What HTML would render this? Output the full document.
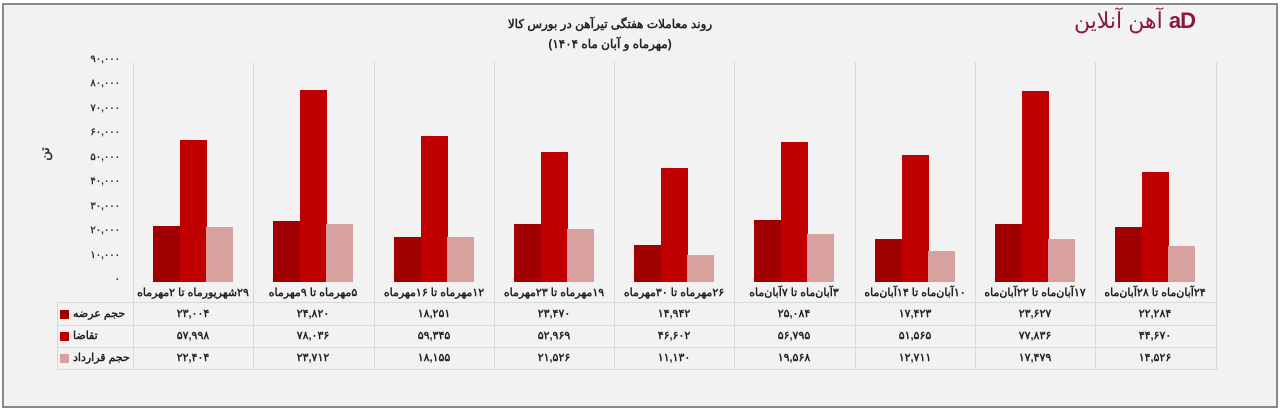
<!DOCTYPE html>
<html><head><meta charset="utf-8"><style>
body{margin:0;width:1280px;height:410px;background:#fff;font-family:"Liberation Sans","Noto Sans CJK SC",sans-serif;overflow:hidden}
#f{position:absolute;left:2px;top:3px;width:1272px;height:401px;border:2px solid #8a8a8a;background:#f2f2f2}
.a{position:absolute}
.g{position:absolute;top:62px;height:220px;width:1px;background:#d9d9d9}
.yl{position:absolute;left:60px;width:60px;text-align:right;font-size:10px;font-weight:bold;color:#333}
.b{position:absolute;width:27px}
.d{background:#a00000}.r{background:#c00000}.p{background:#d8a09f}
.c{position:absolute;width:120px;text-align:center;font-size:11px;font-weight:bold;color:#222;direction:rtl}
.hl{position:absolute;height:1px;background:#d9d9d9;left:57px;width:1159px}
.vl{position:absolute;width:1px;background:#d9d9d9;top:282px;height:88px}
.lab{position:absolute;left:60px;width:73px;font-size:11px;font-weight:bold;color:#222;text-align:left}
.lab span{display:inline-block;width:9px;height:9px;vertical-align:middle;margin-right:4px}
</style></head><body>
<div id="f"></div>
<div class="a" style="left:480px;width:260px;top:14px;text-align:center;font-size:12px;font-weight:bold;direction:rtl;color:#222;line-height:20px">روند معاملات هفتگی تیرآهن در بورس کالا<br>(مهرماه و آبان ماه ۱۴۰۴)</div>
<div class="a" style="left:990px;top:8px;width:205px;text-align:right;font-size:22px;color:#8b1a3a;white-space:nowrap"><span style="direction:rtl;unicode-bidi:embed">آهن آنلاین</span> <span style="font-weight:bold;letter-spacing:-1px">aD</span></div>
<div class="a" style="left:38px;top:146px;font-size:13px;font-weight:bold;transform:rotate(-90deg);color:#333">تن</div>
<div class="yl" style="top:54px">۹۰,۰۰۰</div>
<div class="yl" style="top:78px">۸۰,۰۰۰</div>
<div class="yl" style="top:103px">۷۰,۰۰۰</div>
<div class="yl" style="top:127px">۶۰,۰۰۰</div>
<div class="yl" style="top:152px">۵۰,۰۰۰</div>
<div class="yl" style="top:176px">۴۰,۰۰۰</div>
<div class="yl" style="top:201px">۳۰,۰۰۰</div>
<div class="yl" style="top:225px">۲۰,۰۰۰</div>
<div class="yl" style="top:250px">۱۰,۰۰۰</div>
<div class="yl" style="top:274px">۰</div>
<div class="g" style="left:133px"></div><div class="g" style="left:253px"></div><div class="g" style="left:374px"></div><div class="g" style="left:494px"></div><div class="g" style="left:614px"></div><div class="g" style="left:734px"></div><div class="g" style="left:855px"></div><div class="g" style="left:975px"></div><div class="g" style="left:1095px"></div><div class="g" style="left:1216px"></div>

<div class="b d" style="left:153px;top:226px;height:56px"></div><div class="b r" style="left:180px;top:140px;height:142px"></div><div class="b p" style="left:206px;top:227px;height:55px"></div>
<div class="b d" style="left:273px;top:221px;height:61px"></div><div class="b r" style="left:300px;top:90px;height:192px"></div><div class="b p" style="left:326px;top:224px;height:58px"></div>
<div class="b d" style="left:394px;top:237px;height:45px"></div><div class="b r" style="left:421px;top:136px;height:146px"></div><div class="b p" style="left:447px;top:237px;height:45px"></div>
<div class="b d" style="left:514px;top:224px;height:58px"></div><div class="b r" style="left:541px;top:152px;height:130px"></div><div class="b p" style="left:567px;top:229px;height:53px"></div>
<div class="b d" style="left:634px;top:245px;height:37px"></div><div class="b r" style="left:661px;top:168px;height:114px"></div><div class="b p" style="left:687px;top:255px;height:27px"></div>
<div class="b d" style="left:754px;top:220px;height:62px"></div><div class="b r" style="left:781px;top:142px;height:140px"></div><div class="b p" style="left:807px;top:234px;height:48px"></div>
<div class="b d" style="left:875px;top:239px;height:43px"></div><div class="b r" style="left:902px;top:155px;height:127px"></div><div class="b p" style="left:928px;top:251px;height:31px"></div>
<div class="b d" style="left:995px;top:224px;height:58px"></div><div class="b r" style="left:1022px;top:91px;height:191px"></div><div class="b p" style="left:1048px;top:239px;height:43px"></div>
<div class="b d" style="left:1115px;top:227px;height:55px"></div><div class="b r" style="left:1142px;top:172px;height:110px"></div><div class="b p" style="left:1168px;top:246px;height:36px"></div>

<div class="hl" style="top:302px;left:57px"></div><div class="hl" style="top:325px"></div><div class="hl" style="top:347px"></div><div class="hl" style="top:369px"></div>
<div class="vl" style="left:57px;top:302px;height:67px"></div>
<div class="vl" style="left:133px"></div><div class="vl" style="left:253px"></div><div class="vl" style="left:374px"></div><div class="vl" style="left:494px"></div><div class="vl" style="left:614px"></div><div class="vl" style="left:734px"></div><div class="vl" style="left:855px"></div><div class="vl" style="left:975px"></div><div class="vl" style="left:1095px"></div><div class="vl" style="left:1216px"></div>

<div class="lab" style="top:307px"><span class="d"></span>حجم عرضه</div>
<div class="lab" style="top:329px"><span class="r"></span>تقاضا</div>
<div class="lab" style="top:351px"><span class="p"></span>حجم قرارداد</div>

<div class="c" style="left:133px;top:286px">۲۹شهریورماه تا ۲مهرماه</div>
<div class="c" style="left:253px;top:286px">۵مهرماه تا ۹مهرماه</div>
<div class="c" style="left:374px;top:286px">۱۲مهرماه تا ۱۶مهرماه</div>
<div class="c" style="left:494px;top:286px">۱۹مهرماه تا ۲۳مهرماه</div>
<div class="c" style="left:614px;top:286px">۲۶مهرماه تا ۳۰مهرماه</div>
<div class="c" style="left:734px;top:286px">۳آبان‌ماه تا ۷آبان‌ماه</div>
<div class="c" style="left:855px;top:286px">۱۰آبان‌ماه تا ۱۴آبان‌ماه</div>
<div class="c" style="left:975px;top:286px">۱۷آبان‌ماه تا ۲۲آبان‌ماه</div>
<div class="c" style="left:1095px;top:286px">۲۴آبان‌ماه تا ۲۸آبان‌ماه</div>

<div class="c" style="left:133px;top:307px">۲۳,۰۰۴</div><div class="c" style="left:253px;top:307px">۲۴,۸۲۰</div><div class="c" style="left:374px;top:307px">۱۸,۲۵۱</div><div class="c" style="left:494px;top:307px">۲۳,۴۷۰</div><div class="c" style="left:614px;top:307px">۱۴,۹۴۲</div><div class="c" style="left:734px;top:307px">۲۵,۰۸۴</div><div class="c" style="left:855px;top:307px">۱۷,۴۲۳</div><div class="c" style="left:975px;top:307px">۲۳,۶۲۷</div><div class="c" style="left:1095px;top:307px">۲۲,۲۸۴</div>
<div class="c" style="left:133px;top:329px">۵۷,۹۹۸</div><div class="c" style="left:253px;top:329px">۷۸,۰۳۶</div><div class="c" style="left:374px;top:329px">۵۹,۳۴۵</div><div class="c" style="left:494px;top:329px">۵۲,۹۶۹</div><div class="c" style="left:614px;top:329px">۴۶,۶۰۲</div><div class="c" style="left:734px;top:329px">۵۶,۷۹۵</div><div class="c" style="left:855px;top:329px">۵۱,۵۶۵</div><div class="c" style="left:975px;top:329px">۷۷,۸۳۶</div><div class="c" style="left:1095px;top:329px">۴۴,۶۷۰</div>
<div class="c" style="left:133px;top:351px">۲۲,۴۰۴</div><div class="c" style="left:253px;top:351px">۲۳,۷۱۲</div><div class="c" style="left:374px;top:351px">۱۸,۱۵۵</div><div class="c" style="left:494px;top:351px">۲۱,۵۲۶</div><div class="c" style="left:614px;top:351px">۱۱,۱۳۰</div><div class="c" style="left:734px;top:351px">۱۹,۵۶۸</div><div class="c" style="left:855px;top:351px">۱۲,۷۱۱</div><div class="c" style="left:975px;top:351px">۱۷,۴۷۹</div><div class="c" style="left:1095px;top:351px">۱۴,۵۲۶</div>
</body></html>
